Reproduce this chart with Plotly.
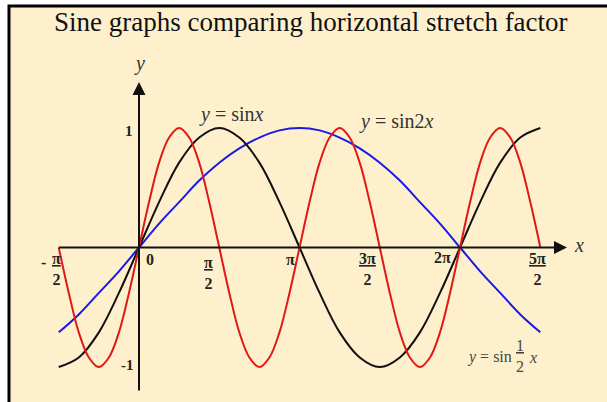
import plotly.graph_objects as go
import math

PI = math.pi

# x sample points, in multiples of pi (steps of pi/8 from -pi/2 to 5pi/2)
x_over_pi = [-0.5, -0.375, -0.25, -0.125, 0, 0.125, 0.25, 0.375, 0.5,
             0.625, 0.75, 0.875, 1, 1.125, 1.25, 1.375, 1.5,
             1.625, 1.75, 1.875, 2, 2.125, 2.25, 2.375, 2.5]

# values at those points
y_sinx = [-1, -0.92, -0.71, -0.38, 0, 0.38, 0.71, 0.92, 1,
          0.92, 0.71, 0.38, 0, -0.38, -0.71, -0.92, -1,
          -0.92, -0.71, -0.38, 0, 0.38, 0.71, 0.92, 1]
y_sinhalf = [-0.71, -0.56, -0.38, -0.2, 0, 0.2, 0.38, 0.56, 0.71,
             0.83, 0.92, 0.98, 1, 0.98, 0.92, 0.83, 0.71,
             0.56, 0.38, 0.2, 0, -0.2, -0.38, -0.56, -0.71]

# red curve read at finer steps (pi/16)
x2_over_pi = [-0.5, -0.4375, -0.375, -0.3125, -0.25, -0.1875, -0.125, -0.0625,
              0, 0.0625, 0.125, 0.1875, 0.25, 0.3125, 0.375, 0.4375,
              0.5, 0.5625, 0.625, 0.6875, 0.75, 0.8125, 0.875, 0.9375,
              1, 1.0625, 1.125, 1.1875, 1.25, 1.3125, 1.375, 1.4375,
              1.5, 1.5625, 1.625, 1.6875, 1.75, 1.8125, 1.875, 1.9375,
              2, 2.0625, 2.125, 2.1875, 2.25, 2.3125, 2.375, 2.4375, 2.5]
y_sin2x = [0, -0.38, -0.71, -0.92, -1, -0.92, -0.71, -0.38,
           0, 0.38, 0.71, 0.92, 1, 0.92, 0.71, 0.38,
           0, -0.38, -0.71, -0.92, -1, -0.92, -0.71, -0.38,
           0, 0.38, 0.71, 0.92, 1, 0.92, 0.71, 0.38,
           0, -0.38, -0.71, -0.92, -1, -0.92, -0.71, -0.38,
           0, 0.38, 0.71, 0.92, 1, 0.92, 0.71, 0.38, 0]

# tick marks on the x axis (multiples of pi) and their labels
tick_over_pi = [-0.5, 0, 0.5, 1, 1.5, 2, 2.5]
tick_text = ['<u>π</u><br>2', '0', '<u>π</u><br>2', 'π',
             '<u>3π</u><br>2', '2π', '<u>5π</u><br>2']
tick_dx = [-2, 11, -11, -9, -12, -18, -3]
tick_dy = [-21, -12, -25, -12, -21, -10, -21]

y_ticks = [1, -1]
y_tick_text = ['1', '-1']

x = [v * PI for v in x_over_pi]
x2 = [v * PI for v in x2_over_pi]

fig = go.Figure()
fig.add_trace(go.Scatter(x=x, y=y_sinhalf, mode='lines', line=dict(color='#1a1ae6', width=2, shape='spline')))
fig.add_trace(go.Scatter(x=x, y=y_sinx, mode='lines', line=dict(color='#111111', width=2, shape='spline')))
fig.add_trace(go.Scatter(x=x2, y=y_sin2x, mode='lines', line=dict(color='#e01818', width=2, shape='spline')))

serif = 'Liberation Serif'
anns = []

# axes with arrows
anns.append(dict(x=8.376, y=0, ax=-1.6, ay=0, xref='x', yref='y', axref='x', ayref='y',
                 text='', showarrow=True, arrowhead=2, arrowsize=1.3, arrowwidth=2, arrowcolor='#111'))
anns.append(dict(x=0, y=1.385, ax=0, ay=-1.209, xref='x', yref='y', axref='x', ayref='y',
                 text='', showarrow=True, arrowhead=2, arrowsize=1.3, arrowwidth=2, arrowcolor='#111'))
anns.append(dict(x=8.376, y=0, xshift=12, yshift=3, text='<i>x</i>', showarrow=False,
                 font=dict(family=serif, size=20, color='#333')))
anns.append(dict(x=0, y=1.385, yshift=18, text='<i>y</i>', showarrow=False,
                 font=dict(family=serif, size=20, color='#333')))

for v, t, dx, dy in zip(tick_over_pi, tick_text, tick_dx, tick_dy):
    anns.append(dict(x=v * PI, y=0, xshift=dx, yshift=dy, text=t, showarrow=False,
                     font=dict(family=serif, size=16, color='#222', weight='bold')))
anns.append(dict(x=-0.5 * PI, y=0, xshift=-15, yshift=-15, text='-', showarrow=False,
                 font=dict(family=serif, size=16, color='#222', weight='bold')))

for v, t in zip(y_ticks, y_tick_text):
    anns.append(dict(x=0, y=v, xshift=-10 if v > 0 else -12, yshift=-3 if v > 0 else 2, text=t,
                     showarrow=False, font=dict(family=serif, size=15, color='#222', weight='bold')))

# curve labels
anns.append(dict(x=(231 - 139) / 51.1, y=(247.5 - 114) / 119.5, text='<i>y</i> = sin<i>x</i>',
                 showarrow=False, font=dict(family=serif, size=20, color='#333')))
anns.append(dict(x=(396 - 139) / 51.1, y=(247.5 - 121) / 119.5, text='<i>y</i> = sin2<i>x</i>',
                 showarrow=False, font=dict(family=serif, size=20, color='#333')))
anns.append(dict(x=(489 - 139) / 51.1, y=(247.5 - 357) / 119.5, text='<i>y</i> = sin',
                 showarrow=False, font=dict(family=serif, size=16, color='#444')))
anns.append(dict(x=(520 - 139) / 51.1, y=(247.5 - 356) / 119.5, text='<u>1</u><br>2',
                 showarrow=False, font=dict(family=serif, size=16, color='#444')))
anns.append(dict(x=(533 - 139) / 51.1, y=(247.5 - 357) / 119.5, text='<i>x</i>',
                 showarrow=False, font=dict(family=serif, size=16, color='#444')))

# title
anns.append(dict(x=311 / 607, y=1 - 22 / 402, xref='paper', yref='paper', yanchor='middle',
                 text='Sine graphs comparing horizontal stretch factor',
                 showarrow=False, font=dict(family=serif, size=27, color='#111')))

fig.update_layout(
    width=607, height=402,
    margin=dict(l=0, r=0, t=0, b=0),
    paper_bgcolor='white',
    plot_bgcolor='rgba(0,0,0,0)',
    showlegend=False,
    xaxis=dict(range=[-139 / 51.1, 468 / 51.1], visible=False, fixedrange=True),
    yaxis=dict(range=[-154.5 / 119.5, 247.5 / 119.5], visible=False, fixedrange=True),
    annotations=anns,
    shapes=[dict(type='rect', xref='paper', yref='paper', x0=9 / 607, x1=1.05, y0=-0.05, y1=1 - 6 / 402,
                 fillcolor='#fef0cc', line=dict(color='black', width=3), layer='below')],
)

fig.write_html("out.html", config={'displayModeBar': False},
               post_script="document.body.style.margin='0px';")
